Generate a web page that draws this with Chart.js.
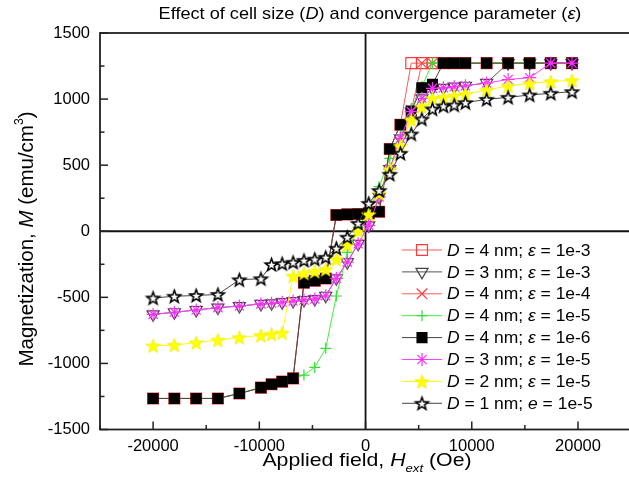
<!DOCTYPE html>
<html>
<head>
<meta charset="utf-8">
<title>Effect of cell size and convergence parameter</title>
<script src="https://cdn.jsdelivr.net/npm/chart.js"></script>
<style>
  html, body { margin: 0; padding: 0; background: #fff; overflow: hidden; }
  #holder { position: relative; width: 640px; height: 494px; }
</style>
</head>
<body>
<div id="holder"><canvas id="chart"></canvas></div>
<script>
'use strict';

var FONT = '"Liberation Sans", Arial, sans-serif';
var SX = 1.12;            // the source text is a little wider than plain Arial

//
// Applied field (Oe), one sweep shared by every run.
//
var field = [-20000, -18000, -15950, -13900, -11880, -9850, -8850, -7850, -6820, -5800,
  -4780, -3750, -2750, -1720, -700, 300, 1280, 2280, 3280, 4300,
  5300, 6300, 7330, 8350, 9400, 11400, 13420, 15450, 17440, 19440];

//
// Magnetization (emu/cm3) for each run.
//
var mD4e3 = [-1265, -1265, -1265, -1265, -1228, -1183, -1158, -1138, -1113, -389,
  -374, -358, 123, 128, 131, 135, 148, 622, 806, 1272,
  1272, 1272, 1272, 1272, 1272, 1272, 1272, 1272, 1272, 1272];
var mD3e3 = [-629, -613, -596, -578, -566, -550, -545, -537, -528, -520,
  -513, -488, -356, -234, -95, 45, 260, 470, 703, 905,
  1006, 1081, 1085, 1094, 1101, 1122, 1272, 1272, 1272, 1272];
var mD4e4 = [-1265, -1265, -1265, -1265, -1228, -1183, -1158, -1138, -1113, -389,
  -374, -358, 123, 128, 131, 135, 148, 622, 806, 910,
  1272, 1272, 1272, 1272, 1272, 1272, 1272, 1272, 1272, 1272];
var mD4e5 = [-1265, -1265, -1265, -1265, -1228, -1183, -1158, -1138, -1113, -1088,
  -1030, -886, -490, -160, 30, 150, 337, 552, 730, 930,
  1095, 1272, 1272, 1272, 1272, 1272, 1272, 1272, 1272, 1272];
var mD4e6 = [-1265, -1265, -1265, -1265, -1228, -1183, -1158, -1138, -1113, -389,
  -374, -358, 123, 128, 131, 135, 148, 622, 806, 910,
  1086, 1112, 1272, 1272, 1272, 1272, 1272, 1272, 1272, 1272];
var mD3e5 = [-629, -613, -596, -578, -566, -550, -545, -537, -528, -520,
  -513, -488, -356, -234, -95, 45, 260, 470, 703, 905,
  1006, 1081, 1085, 1094, 1101, 1122, 1148, 1162, 1272, 1272];
var mD2e5 = [-866, -861, -843, -823, -803, -788, -778, -768, -339, -316,
  -303, -288, -211, -104, 0, 128, 287, 468, 645, 842,
  942, 1006, 1013, 1025, 1038, 1069, 1099, 1119, 1133, 1142];
var mD1e5 = [-505, -492, -486, -478, -367, -359, -252, -245, -235, -220,
  -211, -197, -129, -45, 60, 211, 308, 431, 590, 736,
  849, 925, 948, 955, 973, 998, 1013, 1031, 1044, 1056];

//
// Legend entries: cell size, symbol used for the parameter, parameter value.
//
var cellSize = ['4', '3', '4', '4', '4', '3', '2', '1'];
var epsSymbol = ['ε', 'ε', 'ε', 'ε', 'ε', 'ε', 'ε', 'e'];
var epsValue = ['1e-3', '1e-3', '1e-4', '1e-5', '1e-6', '1e-5', '1e-5', '1e-5'];

//
// Axis ticks.
//
var xTicks = [-20000, -10000, 0, 10000, 20000];
var yTicks = [-1500, -1000, -500, 0, 500, 1000, 1500];

/**
 * Paint a five pointed star on its own small canvas, used as a point style.
 */
function starImage(outer, fill, stroke, lw) {
  var size = Math.ceil(outer * 2 + lw * 2 + 2)
    , c = document.createElement('canvas')
    , g = c.getContext('2d')
    , inner = outer * 0.42
    , i, r, a;

  c.width = c.height = size;
  g.translate(size / 2, size / 2 + outer * 0.1);
  g.beginPath();
  for (i = 0; i < 10; i++) {
    r = i % 2 ? inner : outer;
    a = -Math.PI / 2 + i * Math.PI / 5;
    g[i ? 'lineTo' : 'moveTo'](Math.cos(a) * r, Math.sin(a) * r);
  }
  g.closePath();
  g.fillStyle = fill;
  g.fill();
  if (lw) {
    g.lineWidth = lw;
    g.strokeStyle = stroke;
    g.stroke();
  }
  return c;
}

var yellowStar = starImage(7.6, '#ffff00', '#e8e800', 0.6);
var openStar = starImage(6.6, '#ffffff', '#000000', 1.6);

//
// Look of each run, in legend order.
//
var looks = [
  { data: mD4e3, line: '#ff5a5a', style: 'rect', radius: 7.7, fill: 'rgba(255,255,255,0)', edge: '#ff3c3c', rot: 0 },
  { data: mD3e3, line: '#555555', style: 'triangle', radius: 7, fill: 'rgba(255,255,255,0)', edge: '#444444', rot: 180 },
  { data: mD4e4, line: '#ff5a5a', style: 'crossRot', radius: 7.5, fill: '#ff3c3c', edge: '#ff3c3c', rot: 0 },
  { data: mD4e5, line: '#40ee40', style: 'cross', radius: 5.5, fill: '#30e030', edge: '#30e030', rot: 0 },
  { data: mD4e6, line: '#444444', style: 'rect', radius: 7, fill: '#000000', edge: '#000000', rot: 0 },
  { data: mD3e5, line: '#ff40ff', style: 'star', radius: 6.5, fill: '#ff00ff', edge: '#ff30ff', rot: 0 },
  { data: mD2e5, line: '#ffff00', style: yellowStar, radius: 7, fill: '#ffff00', edge: '#ffff00', rot: 0 },
  { data: mD1e5, line: '#444444', style: openStar, radius: 7, fill: '#ffffff', edge: '#000000', rot: 0 }
];

function points(values) {
  return values.map(function (m, i) {
    return { x: field[i], y: m };
  });
}

/**
 * Draw a run of text pieces (plain, italic, raised, lowered) from x,y.
 */
function rich(ctx, parts, x, y, size, align, sx, angle) {
  var total = 0;

  parts.forEach(function (p) {
    ctx.font = (p.italic ? 'italic ' : '') + (size * (p.scale || 1)) + 'px ' + FONT;
    p.w = ctx.measureText(p.t).width;
    total += p.w;
  });

  ctx.save();
  ctx.translate(x, y);
  if (angle) ctx.rotate(angle);
  ctx.scale(sx, 1);
  ctx.fillStyle = '#000';
  ctx.textBaseline = 'alphabetic';
  ctx.textAlign = 'left';

  var cx = align === 'center' ? -total / 2 : 0;
  parts.forEach(function (p) {
    ctx.font = (p.italic ? 'italic ' : '') + (size * (p.scale || 1)) + 'px ' + FONT;
    ctx.fillText(p.t, cx, (p.dy || 0) * size);
    cx += p.w;
  });
  ctx.restore();
}

function segment(ctx, x1, y1, x2, y2) {
  ctx.beginPath();
  ctx.moveTo(x1, y1);
  ctx.lineTo(x2, y2);
  ctx.stroke();
}

var decor = {
  id: 'decor',

  beforeDatasetsDraw: function (chart) {
    var ctx = chart.ctx
      , a = chart.chartArea
      , x0 = chart.scales.x.getPixelForValue(0)
      , y0 = chart.scales.y.getPixelForValue(0);

    //
    // Zero lines through the origin.
    //
    ctx.save();
    ctx.strokeStyle = '#111';
    ctx.lineWidth = 1.8;
    segment(ctx, x0, a.top, x0, a.bottom);
    segment(ctx, a.left, y0, a.right, y0);
    ctx.restore();
  },

  afterDraw: function (chart) {
    var ctx = chart.ctx
      , a = chart.chartArea
      , xs = chart.scales.x
      , ys = chart.scales.y
      , v, p, len, i, yRow;

    ctx.save();

    //
    // Frame and inward tick marks.
    //
    ctx.strokeStyle = '#222';
    ctx.lineWidth = 1.8;
    ctx.strokeRect(a.left, a.top, a.right - a.left, a.bottom - a.top);

    ctx.lineWidth = 1.5;
    for (v = -1500; v <= 1500; v += 250) {
      p = ys.getPixelForValue(v);
      len = v % 500 === 0 ? 8 : 4.5;
      segment(ctx, a.left, p, a.left + len, p);
    }
    for (v = -25000; v <= 25000; v += 5000) {
      p = xs.getPixelForValue(v);
      len = v % 10000 === 0 ? 8 : 4.5;
      segment(ctx, p, a.bottom, p, a.bottom - len);
    }

    //
    // Title and axis titles.
    //
    rich(ctx, [
      { t: 'Effect of cell size (' }, { t: 'D', italic: true },
      { t: ') and convergence parameter (' }, { t: 'ε', italic: true }, { t: ')' }
    ], 370, 18.5, 16.2, 'center', SX);

    rich(ctx, [
      { t: 'Applied field, ' }, { t: 'H', italic: true },
      { t: 'ext', italic: true, scale: 0.62, dy: 0.3 }, { t: ' (Oe)' }
    ], 367, 466, 19, 'center', SX);

    rich(ctx, [
      { t: 'Magnetization, ' }, { t: 'M', italic: true },
      { t: ' (emu/cm' }, { t: '3', scale: 0.6, dy: -0.48 }, { t: ')' }
    ], 33, 239, 20.5, 'center', 1, -Math.PI / 2);

    //
    // Legend.
    //
    for (i = 0; i < looks.length; i++) {
      yRow = 250 + i * 21.9;
      ctx.strokeStyle = looks[i].line;
      ctx.lineWidth = 1;
      segment(ctx, 402, yRow, 442, yRow);

      ctx.fillStyle = looks[i].fill;
      ctx.strokeStyle = looks[i].edge;
      ctx.lineWidth = 1.2;
      if (Chart.helpers && Chart.helpers.drawPoint) {
        Chart.helpers.drawPoint(ctx, {
          pointStyle: looks[i].style,
          radius: looks[i].radius,
          rotation: looks[i].rot,
          borderWidth: 1.2
        }, 422, yRow);
      }

      rich(ctx, [
        { t: 'D', italic: true }, { t: ' = ' + cellSize[i] + ' nm; ' },
        { t: epsSymbol[i], italic: true }, { t: ' = ' + epsValue[i] }
      ], 447, yRow + 5.6, 15.6, 'left', SX);
    }

    ctx.restore();
  }
};

var datasets = looks.map(function (look, i) {
  return {
    data: points(look.data),
    showLine: true,
    borderColor: look.line,
    borderWidth: 1,
    pointStyle: look.style,
    pointRadius: look.radius,
    pointRotation: look.rot,
    pointBackgroundColor: look.fill,
    pointBorderColor: look.edge,
    pointBorderWidth: 1.2,
    order: looks.length - 1 - i          // later runs are painted on top
  };
});

new Chart(document.getElementById('chart'), {
  type: 'scatter',
  data: { datasets: datasets },
  options: {
    responsive: true,
    maintainAspectRatio: false,
    animation: false,
    events: [],
    layout: { padding: { top: 33, right: 6.7, left: 0, bottom: 0 } },
    plugins: {
      legend: { display: false },
      title: { display: false },
      tooltip: { enabled: false }
    },
    scales: {
      x: {
        type: 'linear',
        min: -25000,
        max: 25000,
        grid: { display: false, drawTicks: false },
        border: { display: false },
        ticks: {
          padding: 7,
          color: '#000',
          font: { family: FONT, size: 16.5 },
          callback: function (v) { return String(v); }
        },
        afterBuildTicks: function (scale) {
          scale.ticks = xTicks.map(function (v) { return { value: v }; });
        },
        afterFit: function (scale) { scale.height = 64.5; }
      },
      y: {
        type: 'linear',
        min: -1500,
        max: 1500,
        grid: { display: false, drawTicks: false },
        border: { display: false },
        ticks: {
          padding: 10,
          color: '#000',
          font: { family: FONT, size: 16.5 },
          callback: function (v) { return String(v); }
        },
        afterBuildTicks: function (scale) {
          scale.ticks = yTicks.map(function (v) { return { value: v }; });
        },
        afterFit: function (scale) { scale.width = 100; }
      }
    }
  },
  plugins: [decor]
});
</script>
</body>
</html>
